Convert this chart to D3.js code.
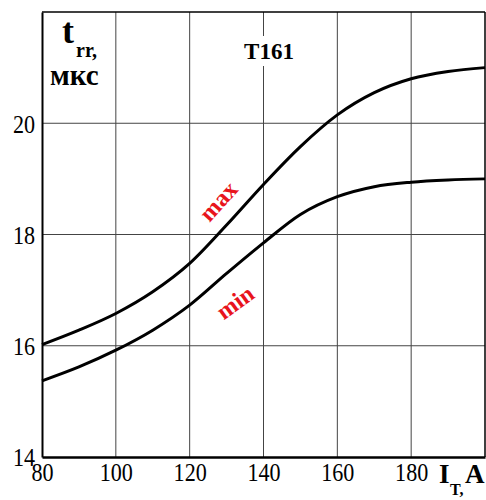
<!DOCTYPE html>
<html>
<head>
<meta charset="utf-8">
<script src="https://cdn.jsdelivr.net/npm/d3@7/dist/d3.min.js"></script>
<style>
  body { margin: 0; background: #fff; }
  svg, svg text { font-family: "Liberation Serif", "Times New Roman", serif; }
</style>
</head>
<body>
<div id="chart"></div>
<script>
// current, A
const current = [80, 90, 100, 110, 120, 130, 140, 150, 160, 170, 180, 190, 200];
// t_rr, мкс
const trrMax = [16.02, 16.28, 16.58, 16.97, 17.48, 18.17, 18.90, 19.58, 20.15, 20.55, 20.80, 20.93, 21.0];
const trrMin = [15.37, 15.62, 15.92, 16.28, 16.73, 17.30, 17.85, 18.36, 18.68, 18.86, 18.94, 18.98, 19.0];
const xTicks = [80, 100, 120, 140, 160, 180];
const yTicks = [14, 16, 18, 20];
const xGrid = [100, 120, 140, 160, 180];
const yGrid = [16, 18, 20];

const width = 486, height = 500;
const plotLeft = 42, plotRight = 485, plotTop = 12, plotBottom = 457;

const svg = d3.select('#chart').append('svg')
    .attr('width', width)
    .attr('height', height)
    .style('display', 'block');

let x = d3.scaleLinear().domain([80, 200]).range([plotLeft, plotRight]);
let y = d3.scaleLinear().domain([14, 22]).range([plotBottom, plotTop]);

// grid
svg.append('g').selectAll('line')
    .data(xGrid)
    .enter().append('line')
    .attr('x1', d => x(d)).attr('x2', d => x(d))
    .attr('y1', plotTop).attr('y2', plotBottom)
    .attr('stroke', '#444').attr('stroke-width', 1);

svg.append('g').selectAll('line')
    .data(yGrid)
    .enter().append('line')
    .attr('x1', plotLeft).attr('x2', plotRight)
    .attr('y1', d => y(d)).attr('y2', d => y(d))
    .attr('stroke', '#444').attr('stroke-width', 1);

// frame
svg.append('line').attr('x1', plotLeft).attr('x2', plotRight).attr('y1', plotTop).attr('y2', plotTop)
    .attr('stroke', '#000').attr('stroke-width', 1.5);
svg.append('line').attr('x1', plotRight).attr('x2', plotRight).attr('y1', plotTop).attr('y2', plotBottom)
    .attr('stroke', '#000').attr('stroke-width', 1.5);

// axes
const xAxis = svg.append('g')
    .attr('transform', `translate(0,${plotBottom})`)
    .call(d3.axisBottom(x).tickValues(xTicks).tickSize(0).tickFormat(d3.format('d')));
xAxis.attr('font-family', null).attr('font-size', null);
xAxis.select('.domain').attr('stroke-width', 2.5);
xAxis.selectAll('text')
    .attr('y', 24).attr('dy', null)
    .attr('transform', 'scale(0.85,1)')
    .style('font-size', '26px')
    .style('font-family', '"Liberation Serif", serif')
    .attr('fill', '#000');

const yAxis = svg.append('g')
    .attr('transform', `translate(${plotLeft},0)`)
    .call(d3.axisLeft(y).tickValues(yTicks).tickSize(0).tickFormat(d3.format('d')));
yAxis.attr('font-family', null).attr('font-size', null);
yAxis.select('.domain').attr('stroke-width', 2);
yAxis.selectAll('text')
    .attr('x', 0).attr('dy', '0.34em')
    .attr('transform', 'translate(-7,0) scale(0.85,1)')
    .style('font-size', '26px')
    .style('font-family', '"Liberation Serif", serif')
    .attr('fill', '#000');

// curves
let line = d3.line()
    .x((d, i) => x(current[i]))
    .y(d => y(d))
    .curve(d3.curveMonotoneX);

[trrMax, trrMin].forEach(s => {
    svg.append('path')
        .attr('d', line(s))
        .attr('fill', 'none')
        .attr('stroke', '#000')
        .attr('stroke-width', 3);
});

// T161 label with white box
svg.append('rect').attr('x', 243).attr('y', 36).attr('width', 52).attr('height', 30).attr('fill', '#fff');
svg.append('text').attr('x', 269).attr('y', 59).attr('text-anchor', 'middle')
    .attr('font-size', 23).attr('font-weight', 'bold').text('T161');

// y title
svg.append('text').attr('x', 62).attr('y', 43)
    .attr('font-size', 36).attr('font-weight', 'bold').text('t');
svg.append('text').attr('x', 76).attr('y', 57)
    .attr('font-size', 20).attr('font-weight', 'bold').text('rr,');
svg.append('text').attr('x', 50).attr('y', 85)
    .attr('font-size', 29).attr('font-weight', 'bold').text('мкс');

// x title
svg.append('text').attr('x', 439).attr('y', 483)
    .attr('font-size', 27).attr('font-weight', 'bold').text('I');
svg.append('text').attr('x', 450).attr('y', 495)
    .attr('font-size', 16).attr('font-weight', 'bold').text('T,');
svg.append('text').attr('x', 465).attr('y', 483)
    .attr('font-size', 27).attr('font-weight', 'bold').text('A');

// curve labels
svg.append('text')
    .attr('transform', 'translate(218,201) rotate(-48)')
    .attr('text-anchor', 'middle').attr('dy', '0.35em')
    .attr('font-size', 24).attr('font-weight', 'bold').attr('fill', '#e8141c')
    .text('max');
svg.append('text')
    .attr('transform', 'translate(235,302) rotate(-36)')
    .attr('text-anchor', 'middle').attr('dy', '0.35em')
    .attr('font-size', 24).attr('font-weight', 'bold').attr('fill', '#e8141c')
    .text('min');
</script>
</body>
</html>
